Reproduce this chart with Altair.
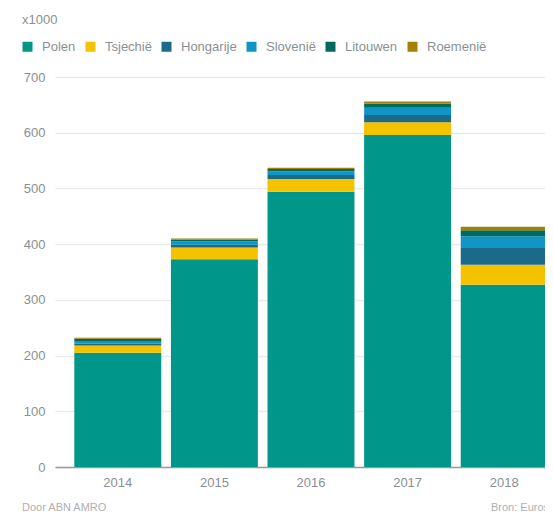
import altair as alt
import pandas as pd

years = ["2014", "2015", "2016", "2017", "2018"]
countries = ["Polen", "Tsjechië", "Hongarije", "Slovenië", "Litouwen", "Roemenië"]
colors = ["#00968a", "#f5c200", "#1b6a89", "#1195c7", "#006a5e", "#a88000"]

polen = [205, 373, 494, 596, 327]
tsjechie = [13, 21, 23, 23, 36]
hongarije = [3, 5, 7, 13, 30]
slovenie = [5, 6, 7, 13, 21]
litouwen = [4, 3, 4, 7, 11]
roemenie = [2, 2, 2, 4, 6]

series = [polen, tsjechie, hongarije, slovenie, litouwen, roemenie]
rows = []
for ci, (c, vals) in enumerate(zip(countries, series)):
    for y, v in zip(years, vals):
        rows.append({"jaar": y, "land": c, "waarde": v, "volgorde": ci})
df = pd.DataFrame(rows)

FONT = "Liberation Sans"
GREY = "#8a8f94"

bars = alt.Chart(df).mark_bar().encode(
    x=alt.X("jaar:N", title=None,
            scale=alt.Scale(paddingInner=0.1, paddingOuter=0.2, range=[0, 512]),
            axis=alt.Axis(labelAngle=0, ticks=False, labelPadding=9, domainColor="#9a9a9a",
                          domainWidth=1.5, labelFontSize=13, labelColor=GREY, labelFont=FONT)),
    y=alt.Y("waarde:Q", title=None, stack="zero",
            scale=alt.Scale(domain=[0, 700], nice=False),
            axis=alt.Axis(values=[0, 100, 200, 300, 400, 500, 600, 700], ticks=False, domain=False,
                          labelPadding=10, gridColor="#e9e9e9", gridWidth=1.5,
                          labelFontSize=13, labelColor=GREY, labelFont=FONT)),
    color=alt.Color("land:N", scale=alt.Scale(domain=countries, range=colors),
                    legend=alt.Legend(title=None, orient="none", legendX=-34, legendY=-37,
                                      direction="horizontal", symbolType="square", symbolSize=100,
                                      symbolStrokeWidth=0, labelFontSize=13, labelColor=GREY,
                                      labelFont=FONT, columnPadding=8, labelOffset=8)),
    order=alt.Order("volgorde:Q", sort="ascending"),
)

unit = alt.Chart(pd.DataFrame({"t": ["x1000"]})).mark_text(
    align="left", baseline="middle", fontSize=13, color=GREY, font=FONT
).encode(text="t:N", x=alt.value(-33), y=alt.value(-57))

door = alt.Chart(pd.DataFrame({"t": ["Door ABN AMRO"]})).mark_text(
    align="left", baseline="middle", fontSize=11, color="#b0b0b0", font=FONT
).encode(text="t:N", x=alt.value(-33), y=alt.value(431))

bron = alt.Chart(pd.DataFrame({"t": ["Bron: Eurostat"]})).mark_text(
    align="left", baseline="middle", fontSize=11, color="#b0b0b0", font=FONT
).encode(text="t:N", x=alt.value(436), y=alt.value(431))

chart = alt.layer(bars, unit, door, bron).properties(
    width=490, height=390,
    autosize=alt.AutoSizeParams(type="none"),
    padding={"left": 47, "top": 69, "right": 0, "bottom": 47},
).configure_view(stroke=None)

chart.save("out.html", embed_options={"renderer": "svg", "actions": False})
